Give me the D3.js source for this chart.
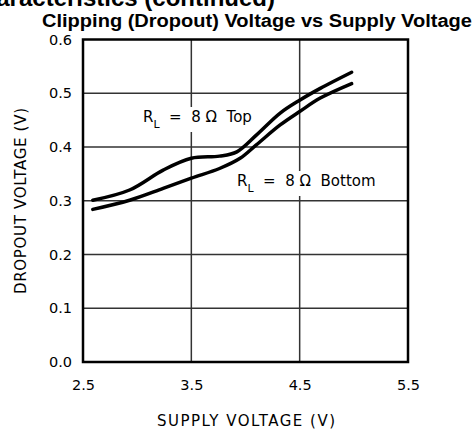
<!DOCTYPE html>
<html>
<head>
<meta charset="utf-8">
<script src="https://cdn.jsdelivr.net/npm/d3@7"></script>
<style>
  body { margin: 0; background: #fff; }
  svg { display: block; }
</style>
</head>
<body>
<div id="chart"></div>
<script>
// Dropout voltage vs supply voltage, two curves (RL = 8 ohm, top / bottom)
const supplyTicks = [2.5, 3.5, 4.5, 5.5];
const dropoutTicks = [0.0, 0.1, 0.2, 0.3, 0.4, 0.5, 0.6];

const supplyTop = [2.59, 2.93, 3.24, 3.5, 3.76, 3.92, 4.10, 4.32, 4.5, 4.69, 4.98];
const dropoutTop = [0.301, 0.320, 0.357, 0.379, 0.383, 0.391, 0.422, 0.463, 0.487, 0.509, 0.539];

const supplyBottom = [2.59, 2.93, 3.24, 3.5, 3.76, 3.95, 4.10, 4.32, 4.5, 4.69, 4.98];
const dropoutBottom = [0.284, 0.301, 0.323, 0.342, 0.360, 0.379, 0.404, 0.441, 0.466, 0.491, 0.518];

const largeur = 476, hauteur = 429;
const gauche = 83, droite = 408, haut = 39.5, bas = 362;

const svg = d3.select("#chart").append("svg")
  .attr("width", largeur)
  .attr("height", hauteur);

const x = d3.scaleLinear().domain([2.5, 5.5]).range([gauche, droite]);
const y = d3.scaleLinear().domain([0, 0.6]).range([bas, haut]);

// heading cut off at the top of the page
svg.append("text")
  .attr("x", 275).attr("y", 6)
  .attr("text-anchor", "end")
  .style("font-family", "Liberation Sans, Arial, sans-serif")
  .style("font-weight", "bold")
  .style("font-size", "24px")
  .text("Typical Performance Characteristics (continued)");

svg.append("text")
  .attr("x", 42).attr("y", 27)
  .attr("textLength", 430)
  .attr("lengthAdjust", "spacingAndGlyphs")
  .style("font-family", "Liberation Sans, Arial, sans-serif")
  .style("font-weight", "bold")
  .style("font-size", "18px")
  .text("Clipping (Dropout) Voltage vs Supply Voltage");

// grid
const grille = svg.append("g").attr("stroke", "#333").attr("stroke-width", 1.5);
grille.selectAll("line.v")
  .data(supplyTicks.slice(1, -1))
  .enter().append("line")
  .attr("x1", d => x(d)).attr("x2", d => x(d))
  .attr("y1", haut).attr("y2", bas);
grille.selectAll("line.h")
  .data(dropoutTicks.slice(1, -1))
  .enter().append("line")
  .attr("x1", gauche).attr("x2", droite)
  .attr("y1", d => y(d)).attr("y2", d => y(d));

// axes (labels only)
const police = "DejaVu Sans, sans-serif";
const axeX = svg.append("g")
  .attr("transform", `translate(0, ${bas + 15})`)
  .call(d3.axisBottom(x).tickValues(supplyTicks).tickFormat(d3.format(".1f")).tickSize(0));
const axeY = svg.append("g")
  .attr("transform", `translate(${gauche - 8}, 0)`)
  .call(d3.axisLeft(y).tickValues(dropoutTicks).tickFormat(d3.format(".1f")).tickSize(0));
[axeX, axeY].forEach(a => {
  a.select(".domain").remove();
  a.selectAll("text")
    .style("font-family", police)
    .style("font-size", "14.5px")
    .attr("fill", "#000");
});

svg.append("text")
  .attr("x", 157).attr("y", 426)
  .attr("textLength", 178)
  .attr("lengthAdjust", "spacing")
  .style("font-family", police)
  .style("font-size", "15px")
  .text("SUPPLY VOLTAGE (V)");

svg.append("text")
  .attr("transform", "translate(26, 294) rotate(-90)")
  .attr("textLength", 186)
  .attr("lengthAdjust", "spacing")
  .style("font-family", police)
  .style("font-size", "15px")
  .text("DROPOUT VOLTAGE (V)");

// curve labels with white backing (drawn under the curves, over the grid)
function etiquette(px, py, suffixe) {
  const g = svg.append("g");
  const t = g.append("text")
    .attr("x", px).attr("y", py)
    .style("font-family", police)
    .style("font-size", "15px")
    .attr("xml:space", "preserve");
  t.append("tspan").text("R");
  t.append("tspan").attr("dy", 6).style("font-size", "11px").text("L");
  t.append("tspan").attr("dy", -6).text("  =  8 \u03A9  " + suffixe);
  const b = t.node().getBBox();
  g.insert("rect", "text")
    .attr("x", b.x - 3).attr("y", b.y - 1)
    .attr("width", b.width + 6).attr("height", b.height + 2)
    .attr("fill", "#fff");
}
etiquette(143, 122, "Top");
etiquette(237, 186, "Bottom");

// curves
const ligne = d3.line()
  .x(d => x(d[0]))
  .y(d => y(d[1]))
  .curve(d3.curveCatmullRom.alpha(0.5));

[[supplyTop, dropoutTop], [supplyBottom, dropoutBottom]].forEach(([xs, ys]) => {
  svg.append("path")
    .datum(xs.map((v, i) => [v, ys[i]]))
    .attr("d", ligne)
    .attr("fill", "none")
    .attr("stroke", "#000")
    .attr("stroke-width", 3.5)
    .attr("stroke-linecap", "round");
});

// frame
svg.append("rect")
  .attr("x", gauche).attr("y", haut)
  .attr("width", droite - gauche).attr("height", bas - haut)
  .attr("fill", "none")
  .attr("stroke", "#000")
  .attr("stroke-width", 2.5);
</script>
</body>
</html>
